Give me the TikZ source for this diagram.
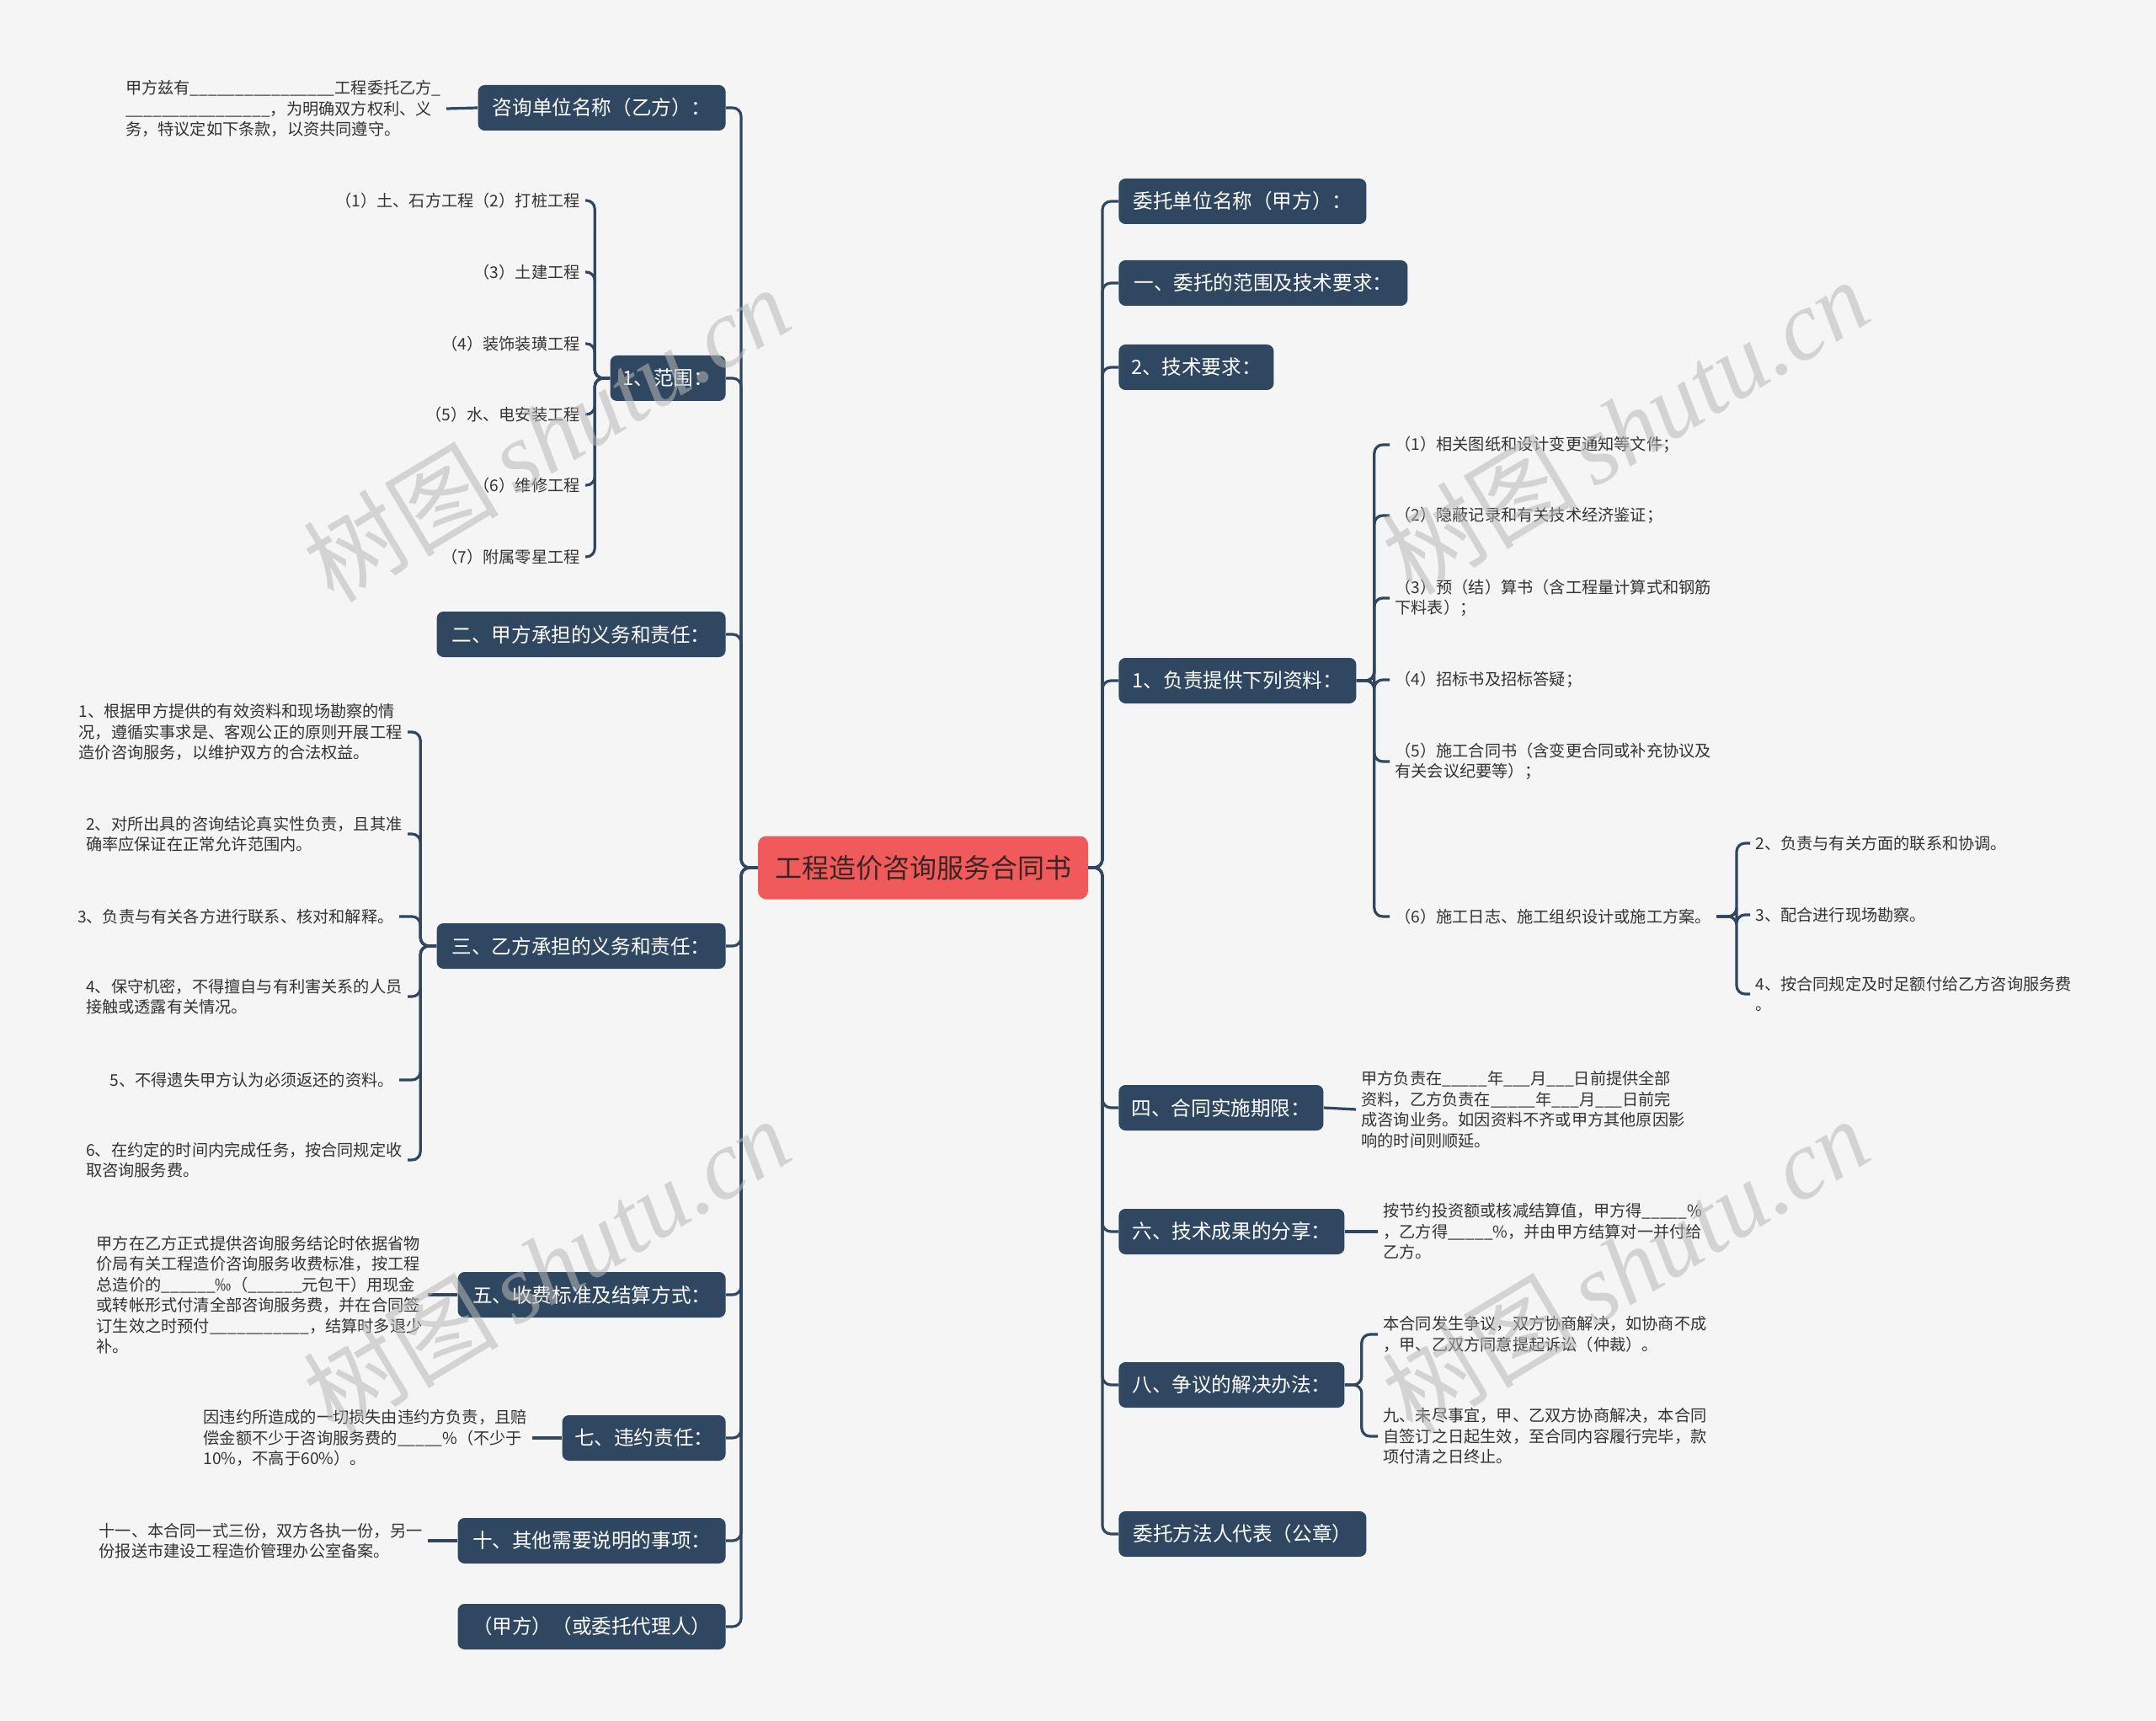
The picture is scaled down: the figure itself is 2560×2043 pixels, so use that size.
\documentclass[tikz,border=0pt]{standalone}
\usepackage{fontspec}
\setmainfont{Noto Sans CJK SC}
\newfontfamily\wmlatin{Liberation Serif}
\definecolor{bgC}{HTML}{F5F5F5}
\definecolor{boxC}{HTML}{2F4760}
\definecolor{lineC}{HTML}{2F4760}
\definecolor{leafC}{HTML}{333333}
\definecolor{rootC}{HTML}{F05A5A}
\definecolor{rootT}{HTML}{3A2424}
\definecolor{wmC}{HTML}{B8B8B8}
\begin{document}
\begin{tikzpicture}[x=0.5pt,y=-0.5pt,
  conn/.style={draw=lineC, line width=1.6pt, rounded corners=5pt},
  branch/.style={fill=boxC, text=white, rounded corners=4pt,
    font=\fontsize{11.8}{14}\selectfont, minimum height=27pt,
    inner xsep=6pt, inner ysep=0pt},
  leaf/.style={text=leafC, font=\fontsize{9.6}{12.25}\selectfont,
    align=left, inner xsep=3pt, inner ysep=1pt},
  rootnode/.style={fill=rootC, text=rootT, rounded corners=5pt,
    font=\fontsize{16}{19}\selectfont, minimum width=196pt,
    minimum height=37.5pt, inner sep=0pt},
  wm/.style={text=wmC, opacity=0.55, rotate=31, inner sep=0pt}
]
\fill[bgC] (0,0) rectangle (2560,2043);
\useasboundingbox (0,0) rectangle (2560,2043);

% root
\node[rootnode] (root) at (1096,1030) {工程造价咨询服务合同书};

% left branches
\node[branch, anchor=east, minimum width=147pt] (L1) at (862,128) {咨询单位名称（乙方）：};
\node[branch, anchor=east, minimum width=68.5pt] (L2) at (862,449) {1、范围：};
\node[branch, anchor=east, minimum width=171.5pt] (L3) at (862,753) {二、甲方承担的义务和责任：};
\node[branch, anchor=east, minimum width=171.5pt] (L4) at (862,1123) {三、乙方承担的义务和责任：};
\node[branch, anchor=east, minimum width=159pt] (L5) at (862,1537) {五、收费标准及结算方式：};
\node[branch, anchor=east, minimum width=97pt] (L6) at (862,1707) {七、违约责任：};
\node[branch, anchor=east, minimum width=159pt] (L7) at (862,1829) {十、其他需要说明的事项：};
\node[branch, anchor=east, minimum width=159pt] (L8) at (862,1931) {（甲方）（或委托代理人）};

% right branches
\node[branch, anchor=west, minimum width=147pt] (R1) at (1328,239) {委托单位名称（甲方）：};
\node[branch, anchor=west, minimum width=171.5pt] (R2) at (1328,336) {一、委托的范围及技术要求：};
\node[branch, anchor=west, minimum width=92pt] (R3) at (1328,436) {2、技术要求：};
\node[branch, anchor=west, minimum width=141pt] (R4) at (1328,808) {1、负责提供下列资料：};
\node[branch, anchor=west, minimum width=121.5pt] (R5) at (1328,1315) {四、合同实施期限：};
\node[branch, anchor=west, minimum width=134pt] (R6) at (1328,1462) {六、技术成果的分享：};
\node[branch, anchor=west, minimum width=134pt] (R7) at (1328,1644) {八、争议的解决办法：};
\node[branch, anchor=west, minimum width=147pt] (R8) at (1328,1821) {委托方法人代表（公章）};

% spines
\foreach \n in {L1,L2,L3,L4,L5,L6,L7,L8}
  \draw[conn] (root.west) -- (880,1030) |- (\n.east);
\foreach \n in {R1,R2,R3,R4,R5,R6,R7,R8}
  \draw[conn] (root.east) -- (1309,1030) |- (\n.west);

% ---- left leaves
\node[leaf, anchor=east] (a1) at (530,129) {甲方兹有\_\_\_\_\_\_\_\_\_\_\_\_\_\_\_\_工程委托乙方\_\\\_\_\_\_\_\_\_\_\_\_\_\_\_\_\_\_，为明确双方权利、义\\务，特议定如下条款，以资共同遵守。};
\draw[conn] (L1.west) -- (a1.east);

\node[leaf, anchor=east] (b1) at (695,238) {（1）土、石方工程（2）打桩工程};
\node[leaf, anchor=east] (b2) at (695,323) {（3）土建工程};
\node[leaf, anchor=east] (b3) at (695,408) {（4）装饰装璜工程};
\node[leaf, anchor=east] (b4) at (695,492) {（5）水、电安装工程};
\node[leaf, anchor=east] (b5) at (695,576) {（6）维修工程};
\node[leaf, anchor=east] (b6) at (695,661) {（7）附属零星工程};
\foreach \n in {b1,b2,b3,b4,b5,b6}
  \draw[conn] (L2.west) -- ++(-18,0) |- (\n.east);

\node[leaf, anchor=east] (c1) at (484,869) {1、根据甲方提供的有效资料和现场勘察的情\\况，遵循实事求是、客观公正的原则开展工程\\造价咨询服务，以维护双方的合法权益。};
\node[leaf, anchor=east] (c2) at (484,990) {2、对所出具的咨询结论真实性负责，且其准\\确率应保证在正常允许范围内。};
\node[leaf, anchor=east] (c3) at (474,1088) {3、负责与有关各方进行联系、核对和解释。};
\node[leaf, anchor=east] (c4) at (484,1183) {4、保守机密，不得擅自与有利害关系的人员\\接触或透露有关情况。};
\node[leaf, anchor=east] (c5) at (474,1282) {5、不得遗失甲方认为必须返还的资料。};
\node[leaf, anchor=east] (c6) at (484,1377) {6、在约定的时间内完成任务，按合同规定收\\取咨询服务费。};
\foreach \n in {c1,c2,c3,c4,c5,c6}
  \draw[conn] (L4.west) -- ++(-19,0) |- (\n.east);

\node[leaf, anchor=east] (d1) at (508,1537) {甲方在乙方正式提供咨询服务结论时依据省物\\价局有关工程造价咨询服务收费标准，按工程\\总造价的\_\_\_\_\_\_‰（\_\_\_\_\_\_元包干）用现金\\或转帐形式付清全部咨询服务费，并在合同签\\订生效之时预付\_\_\_\_\_\_\_\_\_\_\_，结算时多退少\\补。};
\draw[conn] (L5.west) -- (d1.east);

\node[leaf, anchor=east] (e1) at (632,1707) {因违约所造成的一切损失由违约方负责，且赔\\偿金额不少于咨询服务费的\_\_\_\_\_\%（不少于\\10\%，不高于60\%）。};
\draw[conn] (L6.west) -- (e1.east);

\node[leaf, anchor=east] (f1) at (508,1829) {十一、本合同一式三份，双方各执一份，另一\\份报送市建设工程造价管理办公室备案。};
\draw[conn] (L7.west) -- (f1.east);

% ---- right leaves
\node[leaf, anchor=west] (g1) at (1650,528) {（1）相关图纸和设计变更通知等文件；};
\node[leaf, anchor=west] (g2) at (1650,612) {（2）隐蔽记录和有关技术经济鉴证；};
\node[leaf, anchor=west] (g3) at (1650,710) {（3）预（结）算书（含工程量计算式和钢筋\\下料表）；};
\node[leaf, anchor=west] (g4) at (1650,807) {（4）招标书及招标答疑；};
\node[leaf, anchor=west] (g5) at (1650,904) {（5）施工合同书（含变更合同或补充协议及\\有关会议纪要等）；};
\node[leaf, anchor=west] (g6) at (1650,1088) {（6）施工日志、施工组织设计或施工方案。};
\foreach \n in {g1,g2,g3,g4,g5,g6}
  \draw[conn] (R4.east) -- ++(21,0) |- (\n.west);

\node[leaf, anchor=west] (h1) at (2078,1001) {2、负责与有关方面的联系和协调。};
\node[leaf, anchor=west] (h2) at (2078,1086) {3、配合进行现场勘察。};
\node[leaf, anchor=west] (h3) at (2078,1180) {4、按合同规定及时足额付给乙方咨询服务费\\。};
\foreach \n in {h1,h2,h3}
  \draw[conn] (g6.east) -- (2062,1088) |- (\n.west);

\node[leaf, anchor=west] (i1) at (1610,1317) {甲方负责在\_\_\_\_\_年\_\_\_月\_\_\_日前提供全部\\资料，乙方负责在\_\_\_\_\_年\_\_\_月\_\_\_日前完\\成咨询业务。如因资料不齐或甲方其他原因影\\响的时间则顺延。};
\draw[conn] (R5.east) -- (i1.west);

\node[leaf, anchor=west] (j1) at (1636,1462) {按节约投资额或核减结算值，甲方得\_\_\_\_\_\%\\，乙方得\_\_\_\_\_\%，并由甲方结算对一并付给\\乙方。};
\draw[conn] (R6.east) -- (j1.west);

\node[leaf, anchor=west] (k1) at (1636,1584) {本合同发生争议，双方协商解决，如协商不成\\，甲、乙双方同意提起诉讼（仲裁）。};
\node[leaf, anchor=west] (k2) at (1636,1705) {九、未尽事宜，甲、乙双方协商解决，本合同\\自签订之日起生效，至合同内容履行完毕，款\\项付清之日终止。};
\foreach \n in {k1,k2}
  \draw[conn] (R7.east) -- ++(20,0) |- (\n.west);

% watermarks
\foreach \p [count=\i] in {(649,515),(1930,506),(649,1502),(1930,1502)}
  \node[wm] (wm\i) at \p {\fontsize{58}{58}\selectfont 树图\,{\wmlatin\itshape shutu.cn}};
\end{tikzpicture}
\end{document}
